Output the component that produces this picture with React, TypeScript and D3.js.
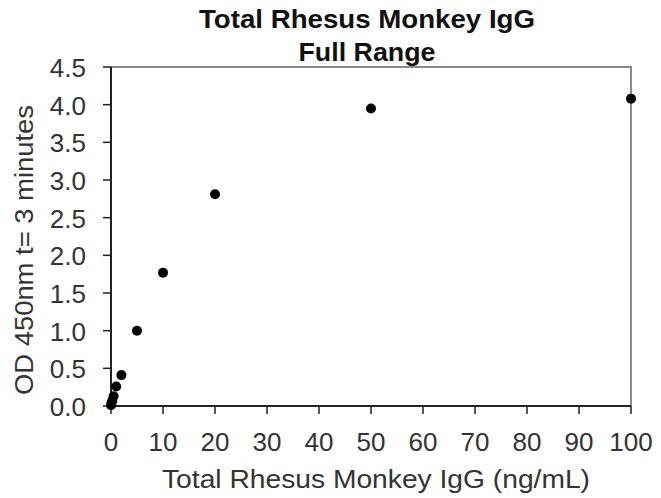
import * as d3 from 'd3'

const concentrations = [0, 0.1, 0.25, 0.5, 1, 2, 5, 10, 20, 50, 100]
const odValues = [0.01, 0.04, 0.07, 0.13, 0.26, 0.41, 1.0, 1.77, 2.81, 3.95, 4.08]
const xTicks = [0, 10, 20, 30, 40, 50, 60, 70, 80, 90, 100]
const yTicks = [0, 0.5, 1, 1.5, 2, 2.5, 3, 3.5, 4, 4.5]

const width = 661
const height = 498
const margin = { top: 67, right: 30, bottom: 92, left: 111 }
const font = 'Liberation Sans, Arial, sans-serif'

const x = d3.scaleLinear().domain([0, 100]).range([margin.left, width - margin.right])
const y = d3.scaleLinear().domain([0, 4.5]).range([height - margin.bottom, margin.top])

export default function App() {
  const x0 = x.range()[0]
  const x1 = x.range()[1]
  const y0 = y.range()[0]
  const y1 = y.range()[1]

  return (
    <svg
      width={width}
      height={height}
      style={{ position: 'absolute', left: 0, top: 0, background: '#fff' }}
      fontFamily={font}
    >
      <text x={367} y={28} textAnchor="middle" fontSize={25} fontWeight="bold" fill="#111"
        textLength={336} lengthAdjust="spacingAndGlyphs">
        Total Rhesus Monkey IgG
      </text>
      <text x={367} y={61} textAnchor="middle" fontSize={25} fontWeight="bold" fill="#111"
        textLength={137} lengthAdjust="spacingAndGlyphs">
        Full Range
      </text>

      {/* frame */}
      <path d={`M${x0},${y1}H${x1}V${y0}`} fill="none" stroke="#8a8a8a" strokeWidth={2} />
      <line x1={x0} x2={x0} y1={y1} y2={y0} stroke="#222" strokeWidth={2} />
      <line x1={x0} x2={x1} y1={y0} y2={y0} stroke="#222" strokeWidth={2} />

      {yTicks.map((t) => (
        <g key={t}>
          <line x1={x0 - 8} x2={x0} y1={y(t)} y2={y(t)} stroke="#222" strokeWidth={1.5} />
          <text x={86} y={y(t) + 10} textAnchor="end" fontSize={26} fill="#333">
            {t.toFixed(1)}
          </text>
        </g>
      ))}

      {xTicks.map((t) => (
        <g key={t}>
          <line x1={x(t)} x2={x(t)} y1={y0} y2={y0 + 8} stroke="#222" strokeWidth={1.5} />
          <text x={x(t)} y={451} textAnchor="middle" fontSize={26} fill="#333">
            {t}
          </text>
        </g>
      ))}

      <text x={376} y={488} textAnchor="middle" fontSize={26} fill="#333"
        textLength={428} lengthAdjust="spacingAndGlyphs">
        Total Rhesus Monkey IgG (ng/mL)
      </text>
      <text
        transform={`translate(33,250) rotate(-90)`}
        textAnchor="middle"
        fontSize={26}
        fill="#333"
        textLength={290}
        lengthAdjust="spacingAndGlyphs"
      >
        OD 450nm t= 3 minutes
      </text>

      {concentrations.map((c, i) => (
        <circle key={c} cx={x(c)} cy={y(odValues[i])} r={5} fill="#000" />
      ))}
    </svg>
  )
}
